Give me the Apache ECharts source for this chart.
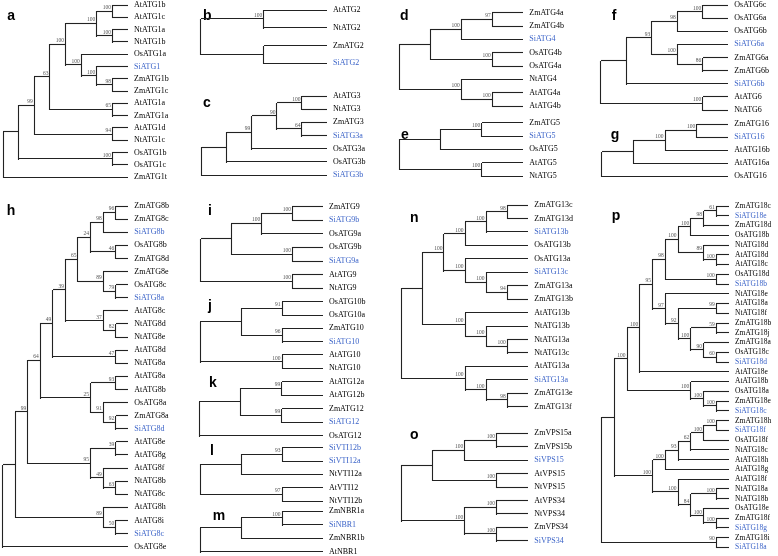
<!DOCTYPE html>
<html><head><meta charset="utf-8">
<script src="https://cdn.jsdelivr.net/npm/echarts@6/dist/echarts.min.js"></script>
<style>html,body{margin:0;padding:0;background:#fff}#c{width:778px;height:556px}</style>
</head><body><div id="c"></div>
<script>
// ---------- DATA: tree topologies (Newick, internal labels = bootstrap support) ----------
const panelLetters = ['a','b','c','d','e','f','g','h','i','j','k','l','m','n','o','p'];
const treeA = '(((((((AtATG1b,AtATG1c)100,(NtATG1a,NtATG1b)100)100,(OsATG1a,(SiATG1,(ZmATG1b,ZmATG1c)98)100)100)100,(AtATG1a,ZmATG1a)65)63,(AtATG1d,NtATG1c)94)99,(OsATG1b,OsATG1c)100),ZmATG1t)';
const treeB = '((AtATG2,NtATG2)100,(ZmATG2,SiATG2))';
const treeC = '(((((AtATG3,NtATG3)100,(ZmATG3,SiATG3a)64)90,OsATG3a)99,OsATG3b),SiATG3b)';
const treeD = '((((ZmATG4a,ZmATG4b)97,SiATG4)100,(OsATG4b,OsATG4a)100),(NtATG4,(AtATG4a,AtATG4b)100)100)';
const treeE = '(((ZmATG5,SiATG5)100,OsATG5),(AtATG5,NtATG5)100)';
const treeF = '(((((OsATG6c,OsATG6a)100,OsATG6b)98,(SiATG6a,(ZmATG6a,ZmATG6b)86)100)93,SiATG6b),(AtATG6,NtATG6)100)';
const treeG = '((((ZmATG16,SiATG16)100,AtATG16b)100,AtATG16a),OsATG16)';
const treeH = '((((((((((ZmATG8b,ZmATG8c)96,SiATG8b)98,(OsATG8b,ZmATG8d)46)24,(ZmATG8e,(OsATG8c,SiATG8a)79)89)65,(AtATG8c,(NtATG8d,NtATG8e)82)37)39,(AtATG8d,NtATG8a)47)49,((AtATG8a,AtATG8b)93,(OsATG8a,(ZmATG8a,SiATG8d)92)91)25)64,((AtATG8e,AtATG8g)39,(AtATG8f,(NtATG8b,NtATG8c)63)49)95)99,(AtATG8h,(AtATG8i,SiATG8c)50)89),OsATG8e)';
const treeI = '((((ZmATG9,SiATG9b)100,OsATG9a)100,(OsATG9b,SiATG9a)100),(AtATG9,NtATG9)100)';
const treeJ = '(((OsATG10b,OsATG10a)91,(ZmATG10,SiATG10)96),(AtATG10,NtATG10)100)';
const treeK = '(((AtATG12a,AtATG12b)99,(ZmATG12,SiATG12)99),OsATG12)';
const treeL = '(((SiVTI12b,SiVTI12a)93,NtVTI12a),(AtVTI12,NtVTI12b)97)';
const treeM = '(((ZmNBR1a,SiNBR1)100,ZmNBR1b),AtNBR1)';
const treeN = '((((((ZmATG13c,ZmATG13d)98,SiATG13b)100,OsATG13b)100,(OsATG13a,(SiATG13c,(ZmATG13a,ZmATG13b)94)100)100)100,(AtATG13b,(NtATG13b,(NtATG13a,NtATG13c)100)100)100),(AtATG13a,(SiATG13a,(ZmATG13e,ZmATG13f)98)100)100)';
const treeO = '((((ZmVPS15a,ZmVPS15b)100,SiVPS15)100,(AtVPS15,NtVPS15)100),((AtVPS34,NtVPS34)100,(ZmVPS34,SiVPS34)100)100)';
const treeP = '((((((((((ZmATG18c,SiATG18e)61,ZmATG18d)98,OsATG18b)100,(NtATG18d,(AtATG18d,AtATG18c)100)89)100,(OsATG18d,SiATG18b)100)98,(NtATG18e,((AtATG18a,NtATG18f)99,((ZmATG18b,ZmATG18j)59,(ZmATG18a,(OsATG18c,SiATG18d)60)90)100)92)97)95,AtATG18e)100,(AtATG18b,(OsATG18a,(ZmATG18e,SiATG18c)100)100)100)100,((((((ZmATG18h,SiATG18f)100,OsATG18f)100,NtATG18c)62,AtATG18h)93,AtATG18g)100,(AtATG18f,((NtATG18a,NtATG18b)100,(OsATG18e,(ZmATG18f,SiATG18g)100)100)84)100)100),(ZmATG18i,SiATG18a)90)';
const trees = [treeA,treeB,treeC,treeD,treeE,treeF,treeG,treeH,treeI,treeJ,treeK,treeL,treeM,treeN,treeO,treeP];
const highlightPrefix = 'Si';

// ---------- LAYOUT (panel boxes, pixels) ----------
const panelBox = [
  {x0:3,     x1:128,   y0:5,     y1:177,   fs:8,   lx:7.3,   ly:18.3},
  {x0:200.7, x1:327,   y0:10,    y1:63.3,  fs:8,   lx:203,   ly:18.3},
  {x0:201.7, x1:327,   y0:96,    y1:175,   fs:8,   lx:203,   ly:105},
  {x0:399,   x1:523.3, y0:12.7,  y1:106,   fs:8,   lx:400,   ly:18.3},
  {x0:399,   x1:523.3, y0:122.7, y1:176,   fs:8,   lx:401,   ly:136.7},
  {x0:600.7, x1:728.3, y0:5,     y1:110,   fs:8,   lx:611.7, ly:18.3},
  {x0:601.7, x1:728.3, y0:124,   y1:176,   fs:8,   lx:610.7, ly:136.7},
  {x0:2.5,   x1:128.3, y0:206,   y1:546.7, fs:8,   lx:6.7,   ly:213.3},
  {x0:200.7, x1:323,   y0:206.5, y1:288.3, fs:8,   lx:208,   ly:213.3},
  {x0:200,   x1:323,   y0:301.7, y1:368.3, fs:8,   lx:208,   ly:308},
  {x0:199.3, x1:323,   y0:381.5, y1:435.7, fs:8,   lx:209,   ly:385},
  {x0:200,   x1:323,   y0:447.7, y1:501,   fs:8,   lx:210,   ly:453},
  {x0:200,   x1:323,   y0:511,   y1:551.7, fs:8,   lx:212.7, ly:518},
  {x0:401.7, x1:528.3, y0:205,   y1:406.7, fs:8,   lx:410,   ly:220},
  {x0:401,   x1:528.3, y0:433.3, y1:540.7, fs:8,   lx:410,   ly:436.7},
  {x0:601.5, x1:729,   y0:206,   y1:547.3, fs:7.5, lx:611.7, ly:218.3}
];
const LABEL_GAP = 6;
const LINE_COLOR = '#222';
const TEXT_COLOR = '#000';
const BLUE = '#3c64c8';
const SUP_COLOR = '#555';
const SERIF = '"Liberation Serif","Times New Roman",serif';

// ---------- tree parsing / layout ----------
function parseNewick(str){
  const s = str.replace(/\s+/g,'').replace(/;$/,'');
  let i = 0;
  function readName(){ const st=i; while(i<s.length && ',()'.indexOf(s[i])<0) i++; return s.slice(st,i); }
  function node(){
    if (s[i]==='('){
      i++; const ch=[node()];
      while (s[i]===','){ i++; ch.push(node()); }
      if (s[i]!==')') throw new Error('bad newick at '+i);
      i++;
      return {children:ch, label:readName()};
    }
    return {children:[], label:readName()};
  }
  const r = node();
  if (i!==s.length) throw new Error('trailing newick at '+i);
  return r;
}
function layoutTree(root){
  let leafIdx = 0;
  (function h(n){
    if (!n.children.length){ n.h=0; n.y=leafIdx++; return 0; }
    let m=0; n.children.forEach(c=>{ m=Math.max(m,h(c)); });
    n.h=m+1;
    n.y=(n.children[0].y+n.children[n.children.length-1].y)/2;
    return n.h;
  })(root);
  const H=root.h, segs=[], leaves=[], names=[], sup=[], supText=[];
  (function walk(n,parent){
    n.x = H - n.h;
    if (parent) segs.push([parent.x, n.y, n.x, n.y]);
    if (n.children.length){
      segs.push([n.x, n.children[0].y, n.x, n.children[n.children.length-1].y]);
      if (n.label){ sup.push([n.x, n.y]); supText.push(n.label); }
      n.children.forEach(c=>walk(c,n));
    } else { leaves.push([n.x, n.y]); names.push(n.label); }
  })(root,null);
  return {H, n:leafIdx, segs, leaves, names, sup, supText};
}

const snap = v => Math.round(v - 0.5) + 0.5;
const grids=[], xAxes=[], yAxes=[], series=[], graphics=[];
trees.forEach((tr,k)=>{
  const t = layoutTree(parseNewick(tr));
  const b = panelBox[k];
  grids.push({left:b.x0, top:b.y0, width:b.x1-b.x0, height:b.y1-b.y0, outerBoundsMode:'none', containLabel:false});
  xAxes.push({type:'value', gridIndex:k, min:0, max:t.H, show:false});
  yAxes.push({type:'value', gridIndex:k, min:0, max:t.n-1, inverse:true, show:false});
  series.push({
    type:'custom', coordinateSystem:'cartesian2d', xAxisIndex:k, yAxisIndex:k, clip:false, silent:true,
    data:t.segs, encode:{x:[0,2], y:[1,3]},
    renderItem:(p,api)=>{
      const a=api.coord([api.value(0),api.value(1)]), c=api.coord([api.value(2),api.value(3)]);
      const vert = Math.abs(a[0]-c[0])<0.01;
      return {type:'line', shape: vert
        ? {x1:snap(a[0]), y1:Math.round(a[1]), x2:snap(c[0]), y2:Math.round(c[1])+1}
        : {x1:Math.round(a[0]), y1:snap(a[1]), x2:Math.round(c[0]), y2:snap(c[1])},
        style:{stroke:LINE_COLOR, lineWidth:1.1}};
    }
  });
  series.push({
    type:'custom', coordinateSystem:'cartesian2d', xAxisIndex:k, yAxisIndex:k, clip:false, silent:true,
    data:t.leaves, encode:{x:0, y:1},
    renderItem:(p,api)=>{
      const a=api.coord([api.value(0),api.value(1)]);
      const nm=t.names[p.dataIndex];
      return {type:'text', x:a[0]+LABEL_GAP, y:a[1],
        style:{text:nm, fill: nm.indexOf(highlightPrefix)===0 ? BLUE : TEXT_COLOR,
          font: b.fs+'px '+SERIF, align:'left', verticalAlign:'middle'}};
    }
  });
  series.push({
    type:'custom', coordinateSystem:'cartesian2d', xAxisIndex:k, yAxisIndex:k, clip:false, silent:true,
    data:t.sup, encode:{x:0, y:1},
    renderItem:(p,api)=>{
      const a=api.coord([api.value(0),api.value(1)]);
      return {type:'text', x:a[0]-1.5, y:a[1]-0.5,
        style:{text:t.supText[p.dataIndex], fill:SUP_COLOR, font:'5.5px '+SERIF, align:'right', verticalAlign:'bottom'}};
    }
  });
  graphics.push({type:'text', x:b.lx, y:b.ly-2, silent:true,
    style:{text:panelLetters[k], fill:'#000', font:'bold 14px "Liberation Sans",Arial,sans-serif', align:'left', verticalAlign:'middle'}});
});

const chart = echarts.init(document.getElementById('c'), null, {renderer:'canvas'});
chart.setOption({
  animation:false,
  backgroundColor:'#fff',
  grid:grids, xAxis:xAxes, yAxis:yAxes, series:series, graphic:graphics
});
</script></body></html>
